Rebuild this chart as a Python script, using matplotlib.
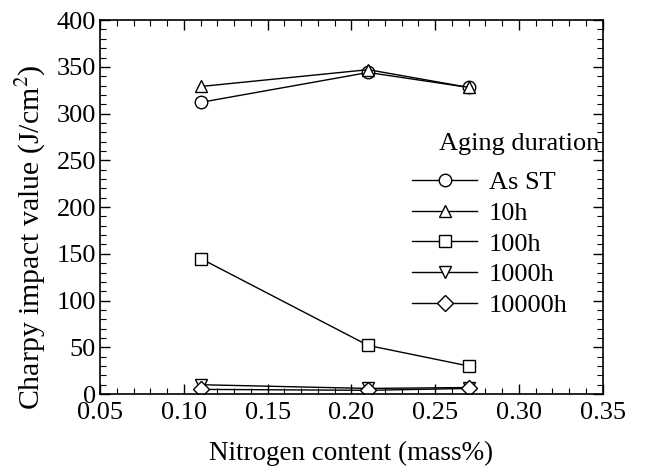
import matplotlib
matplotlib.use("Agg")
import matplotlib.pyplot as plt
from matplotlib.ticker import MultipleLocator
from matplotlib.offsetbox import HPacker, DrawingArea

plt.rcParams['font.family'] = ['Liberation Serif', 'DejaVu Serif']
plt.rcParams['mathtext.fontset'] = 'stix'

nitrogen = [0.11, 0.21, 0.27]
as_st = [312, 344, 328]
h10 = [329, 347, 328]
h100 = [145, 52, 30]
h1000 = [10, 6, 7]
h10000 = [5, 4, 6]

series = [
    ("As ST", as_st, 'o'),
    ("10h", h10, '^'),
    ("100h", h100, 's'),
    ("1000h", h1000, 'v'),
    ("10000h", h10000, 'D'),
]

fig = plt.figure(figsize=(6.46, 4.68), dpi=100)
ax = fig.add_axes([0.155, 0.158, 0.778, 0.799])

for label, vals, m in series:
    ms = 9 if m != 'D' else 8
    ax.plot(nitrogen, vals, color='black', lw=1.0, marker=m, ms=ms,
            mfc='white', mec='black', mew=1.0, label=label)

ax.set_xlim(0.05, 0.35)
ax.set_ylim(0, 400)
ax.xaxis.set_major_locator(MultipleLocator(0.05))
ax.xaxis.set_minor_locator(MultipleLocator(0.01))
ax.yaxis.set_major_locator(MultipleLocator(50))
ax.yaxis.set_minor_locator(MultipleLocator(10))
ax.tick_params(which='both', direction='in', top=True, right=True, labelsize=19)
ax.tick_params(which='major', length=7, width=1)
ax.tick_params(which='minor', length=4, width=0.8)
ax.tick_params(axis='x', pad=6)
ax.tick_params(axis='y', pad=3)
ax.xaxis.set_major_formatter(matplotlib.ticker.FormatStrFormatter('%.2f'))
for s in ax.spines.values():
    s.set_linewidth(1.2)

ax.set_xlabel('Nitrogen content (mass%)', fontsize=19.5, labelpad=12)
ax.set_ylabel('Charpy impact value (J/cm$^2$)', fontsize=21.5)
ax.yaxis.set_label_coords(-0.103, 0.42)

leg = ax.legend(title='Aging duration', loc='upper right', bbox_to_anchor=(0.994, 0.697),
                frameon=False, fontsize=19, title_fontsize=19, handlelength=2.46,
                handletextpad=0.45, labelspacing=0.27, borderaxespad=0.0, borderpad=0.0)
leg._legend_box.align = 'right'
leg._legend_box.sep = 0.27 * 19 + 6
hb = leg._legend_handle_box
leg._legend_box._children[1] = HPacker(children=[hb, DrawingArea(23, 1)], pad=0, sep=0)

fig.savefig('out.png', dpi=100)
